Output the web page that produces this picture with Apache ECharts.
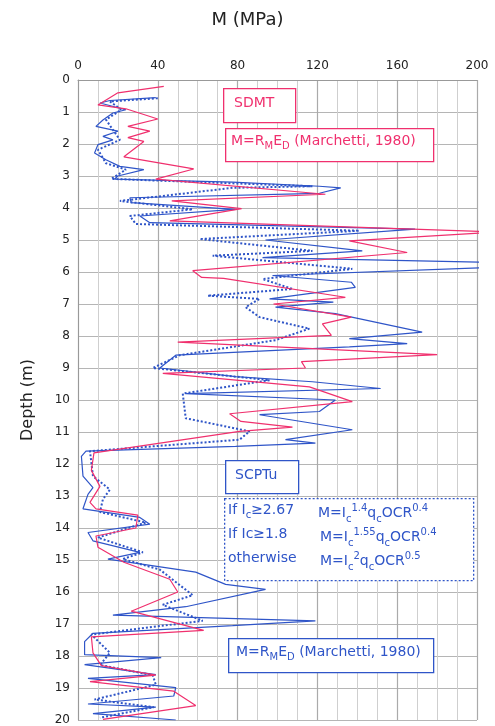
<!DOCTYPE html>
<html><head><meta charset="utf-8">
<script src="https://cdn.jsdelivr.net/npm/echarts@6/dist/echarts.min.js"></script>
<style>html,body{margin:0;padding:0;background:#fff}#c{width:495px;height:726px}</style>
</head><body><div id="c"></div>
<script>
const sdmtM=[43,20,10,24,40,25,36,25,33,23,58,39,124,47,82,46,210,136,165,57.5,62,73,134,98,137,122.5,127,50,180,112,114,42.5,116,137.5,76,81.7,107.5,81,8,6.7,11,6,9,30,29,9,10,23,46,50,26.7,63,6.7,7.5,11.7,39,6,48,59,12.5];
const sdmtD=[0.2,0.4,0.78,0.9,1.22,1.45,1.6,1.8,1.92,2.4,2.78,3.1,3.57,3.78,4.02,4.4,4.75,5.03,5.39,5.96,6.17,6.2,6.79,7.0,7.41,7.62,7.98,8.19,8.58,8.8,9.0,9.17,9.59,10.05,10.43,10.67,10.85,10.98,11.65,12.2,12.7,13.2,13.4,13.6,14.0,14.25,14.6,15.07,15.6,16.0,16.6,17.2,17.4,17.9,18.3,18.6,18.8,19.1,19.55,19.98];
const cptM=[39,16,11,24,17.5,12.5,9,20,12.5,17.5,10,8.3,14,21,33,20,18.3,77.5,121,131.7,121,26,26.7,79,31,36,169,94,142.5,92.5,210,210,97.5,137,139,96,128,99,129,172.5,136,165,136,49,41,79,117.5,151.7,54,129,121,91,137.5,104,119,79,4,1.7,2.5,7.5,5,2.5,31,36,5,7.5,31,15,59,74,94,54,17.5,119,77.5,7.5,3.3,3.3,41.7,3.3,39,5,49,48,5,39,7.5,49];
const cptD=[0.55,0.64,0.72,0.93,1.03,1.25,1.45,1.6,1.76,1.87,2.02,2.28,2.49,2.7,2.8,3.0,3.1,3.19,3.32,3.37,3.54,3.68,3.83,4.04,4.25,4.46,4.66,5.0,5.34,5.55,5.7,5.85,6.11,6.32,6.48,6.84,6.94,7.1,7.3,7.88,8.08,8.24,8.34,8.6,9.0,9.27,9.43,9.64,9.8,10.0,10.36,10.46,10.93,11.24,11.35,11.45,11.6,11.76,12.38,12.74,12.95,13.4,13.67,13.88,14.14,14.4,14.76,14.97,15.38,15.76,15.92,16.46,16.72,16.9,17.05,17.29,17.55,17.96,18.05,18.27,18.58,18.7,18.99,19.25,19.5,19.6,19.8,20];
const cpt2M=[40,16,21.7,14,21,10,14,24,16.7,117.5,77.5,21,57.5,26,29,141,61,117.5,67.5,137.5,92.5,107.5,65,91,84,91,116,99,51,37.5,96,52.5,54,86,81,6,7.5,16,12.5,11,34,10,32.5,22.5,41,57.5,42.5,62.5,6.7,16,11,37.5,39,8.3,38,11];
const cpt2D=[0.57,0.67,0.93,1.24,1.87,2.18,2.6,2.8,3.09,3.32,3.37,3.78,4.04,4.25,4.5,4.71,4.97,5.34,5.49,5.9,6.22,6.53,6.74,6.84,7.1,7.41,7.77,8.13,8.6,9.0,9.38,9.8,10.57,10.98,11.24,11.6,12.38,12.8,13.1,13.5,13.83,14.3,14.76,14.97,15.3,16.1,16.4,16.9,17.33,17.9,18.28,18.6,18.9,19.36,19.6,19.93];
const xTicks=[0,40,80,120,160,200];
const zip=(a,b)=>a.map((v,i)=>[v,b[i]]);
const PINK='#f0306e',BLUE='#2f55c8';
const ch=echarts.init(document.getElementById('c'));
const F='DejaVu Sans';
const rich=c=>({n:{fontSize:14,fontFamily:F,color:c},s:{fontSize:10,fontFamily:F,color:c,verticalAlign:'bottom',lineHeight:21},u:{fontSize:10,fontFamily:F,color:c,verticalAlign:'top',lineHeight:21}});
function rect(l,t,w,h,col,dash){return {type:'rect',left:l,top:t,shape:{width:w,height:h},style:{fill:'#fff',stroke:col,lineWidth:1.3,lineDash:dash?[2,2]:null},z:10};}
function txt(l,t,s,col){return {type:'text',left:l,top:t,z:11,style:{text:s,fill:col,rich:rich(col)}};}
ch.setOption({
 animation:false,
 grid:{left:78,right:18,top:80,bottom:4},
 xAxis:[{type:'value',position:'top',min:0,max:200,interval:10,
   axisLabel:{fontFamily:F,fontSize:12,color:'#222',formatter:v=>xTicks.includes(v)?String(v):''},
   axisLine:{show:true,lineStyle:{color:'#999'}},axisTick:{show:false},
   splitLine:{lineStyle:{color:'#cfcfcf'}}},
  {type:'value',position:'top',min:0,max:200,interval:40,axisLabel:{show:false},axisLine:{show:false},axisTick:{show:false},splitLine:{lineStyle:{color:'#aaa',width:1.2}}}],
 yAxis:{type:'value',inverse:true,min:0,max:20,interval:1,name:'Depth (m)',nameLocation:'middle',nameGap:42,
   nameTextStyle:{fontFamily:F,fontSize:16,color:'#222'},
   axisLabel:{fontFamily:F,fontSize:12,color:'#222'},axisLine:{show:true,lineStyle:{color:'#999'}},axisTick:{show:false},
   splitLine:{lineStyle:{color:'#b5b5b5'}}},
 title:{text:'M (MPa)',left:'center',top:6,textStyle:{fontFamily:F,fontSize:18,fontWeight:'normal',color:'#222'}},
 series:[
  {type:'line',data:zip(cptM,cptD),symbol:'none',lineStyle:{color:BLUE,width:1.2},clip:true},
  {type:'line',data:zip(cpt2M,cpt2D),symbol:'none',lineStyle:{color:BLUE,width:2,type:[2,2]},clip:true},
  {type:'line',data:zip(sdmtM,sdmtD),symbol:'none',lineStyle:{color:PINK,width:1.2},clip:true}
 ],
 graphic:[
  rect(223,88,72,34,PINK), txt(234,96,'{n|SDMT}',PINK),
  rect(225,128,208,33,PINK), txt(231,134,'{n|M=R}{s|M}{n|E}{s|D}{n| (Marchetti, 1980)}',PINK),
  rect(225,460,73,33,BLUE), txt(235,468,'{n|SCPTu}',BLUE),
  rect(224,498,249,82,BLUE,true),
  txt(228,503,'{n|If I}{s|c}{n|≥2.67}',BLUE),
  txt(228,527,'{n|If Ic≥1.8}',BLUE),
  txt(228,551,'{n|otherwise}',BLUE),
  txt(318,503,'{n|M=I}{s|c}{u|1.4}{n|q}{s|c}{n|OCR}{u|0.4}',BLUE),
  txt(320,527,'{n|M=I}{s|c}{u|1.55}{n|q}{s|c}{n|OCR}{u|0.4}',BLUE),
  txt(320,551,'{n|M=I}{s|c}{u|2}{n|q}{s|c}{n|OCR}{u|0.5}',BLUE),
  rect(228,638,205,34,BLUE), txt(236,645,'{n|M=R}{s|M}{n|E}{s|D}{n| (Marchetti, 1980)}',BLUE)
 ]
});
</script></body></html>
